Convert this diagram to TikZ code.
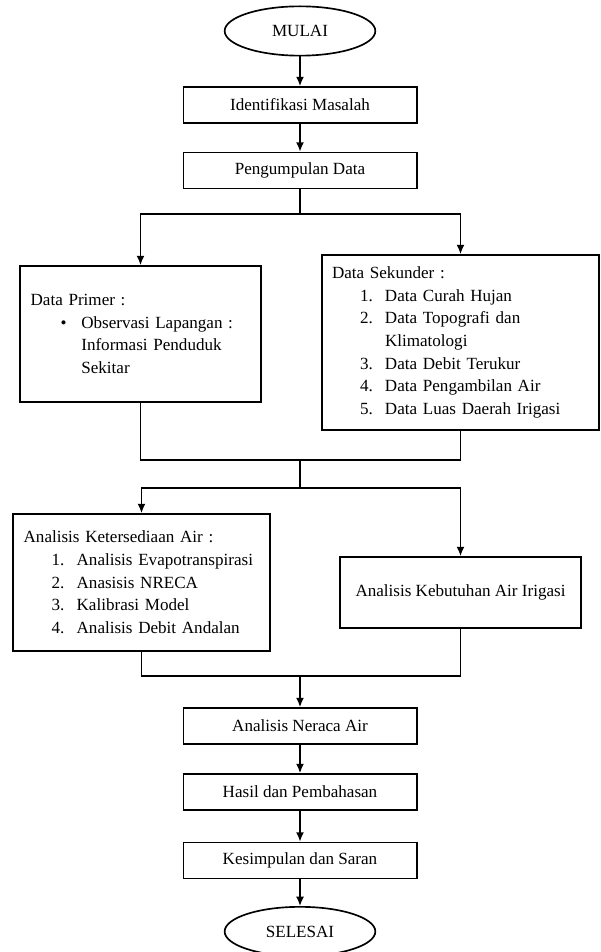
\documentclass[tikz,border=0pt]{standalone}
\usepackage{fontspec}
\setmainfont{Liberation Serif}
\usetikzlibrary{shapes.geometric,arrows.meta}

% baris bernomor di dalam kotak
\newcommand{\butir}[2]{\hspace*{21pt}\makebox[18.75pt][l]{#1}\mbox{#2}}

\begin{document}
\begin{tikzpicture}[x=0.75pt,y=-0.75pt,
	font=\fontsize{12.8}{17}\selectfont,
	line width=1.25pt,
	terminal/.style={draw,ellipse,minimum width=113pt,minimum height=37pt,inner sep=0pt},
	proses/.style={draw,rectangle,minimum width=175pt,minimum height=27pt,inner sep=0pt},
	kotak/.style={draw,rectangle,align=left,inner ysep=0pt},
	panah/.style={-{Latex[length=7pt,width=6pt]}}]
	\useasboundingbox (0,0) rectangle (600,952);
	
	% Titik percabangan
	\coordinate (pecah1) at (300,214);
	\coordinate (gabung1) at (300,460);
	\coordinate (pecah2) at (300,488);
	\coordinate (gabung2) at (300,676);
	
	% Tahap awal
	\node[terminal] (mulai) at (300,31) {MULAI};
	\node[proses] (ident) at (300,105) {Identifikasi Masalah};
	\node[proses] (kumpul) at (300,170.5) {Pengumpulan Data};
	
	% Data
	\node[kotak,text width=164.75pt,inner xsep=8pt,minimum height=102pt] (primer) at (140.5,334)
	{Data Primer :\\
		\hspace*{22.5pt}\makebox[15.5pt][l]{\textbullet}\mbox{Observasi Lapangan :}\\
		\hspace*{38pt}Informasi Penduduk\\
		\hspace*{38pt}Sekitar};
	\node[kotak,text width=192.75pt,inner xsep=7.5pt,minimum height=131.25pt] (sekunder) at (460.5,342.5)
	{Data Sekunder :\\
		\butir{1.}{Data Curah Hujan}\\
		\butir{2.}{Data Topografi dan}\\
		\butir{}{Klimatologi}\\
		\butir{3.}{Data Debit Terukur}\\
		\butir{4.}{Data Pengambilan Air}\\
		\butir{5.}{Data Luas Daerah Irigasi}};
	
	% Analisis
	\node[kotak,text width=176.75pt,inner xsep=8pt,minimum height=102.75pt] (sedia) at (141.5,582.5)
	{Analisis Ketersediaan Air :\\
		\butir{1.}{Analisis Evapotranspirasi}\\
		\butir{2.}{Anasisis NRECA}\\
		\butir{3.}{Kalibrasi Model}\\
		\butir{4.}{Analisis Debit Andalan}};
	\node[draw,rectangle,minimum width=180.75pt,minimum height=53.25pt] (butuh) at (460.5,592.5)
	{Analisis Kebutuhan Air Irigasi};
	
	% Tahap akhir
	\node[proses] (neraca) at (300,726) {Analisis Neraca Air};
	\node[proses] (hasil) at (300,792) {Hasil dan Pembahasan};
	\node[proses] (simpul) at (300,860.5) {Kesimpulan dan Saran};
	\node[terminal] (selesai) at (300,931.5) {SELESAI};
	
	% Garis alir
	\draw[panah] (mulai) -- (ident);
	\draw[panah] (ident) -- (kumpul);
	\draw (kumpul) -- (pecah1);
	\draw[panah] (pecah1) -| (primer);
	\draw[panah] (pecah1) -| (sekunder);
	\draw (primer) |- (gabung1) -| (sekunder);
	\draw (gabung1) -- (pecah2);
	\draw[panah] (pecah2) -| (sedia);
	\draw[panah] (pecah2) -| (butuh);
	\draw (sedia) |- (gabung2) -| (butuh);
	\draw[panah] (gabung2) -- (neraca);
	\draw[panah] (neraca) -- (hasil);
	\draw[panah] (hasil) -- (simpul);
	\draw[panah] (simpul) -- (selesai);
\end{tikzpicture}
\end{document}
